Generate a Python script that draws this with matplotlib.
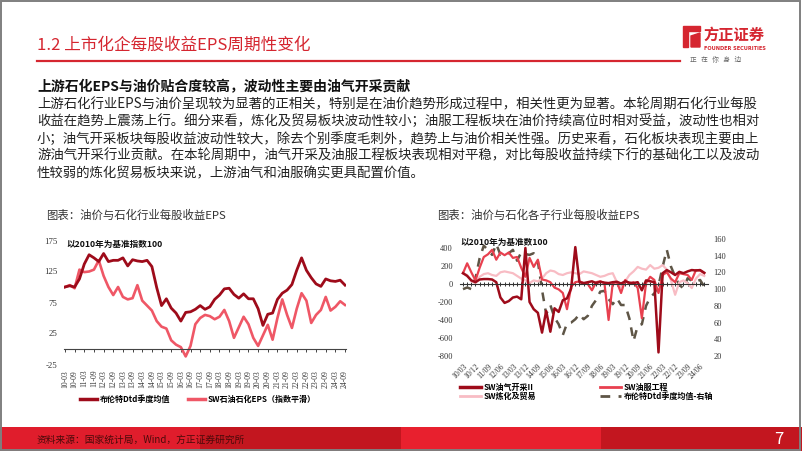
import matplotlib
matplotlib.use('Agg')
import matplotlib.pyplot as plt
from matplotlib.patches import Rectangle, Polygon
from matplotlib.lines import Line2D

plt.rcParams['font.family'] = ['Noto Sans CJK SC', 'DejaVu Sans']

# ---------------- data ----------------
# quarterly, 2010Q1 .. 2024Q3 (2010 = 100)
brent = [100, 102, 100, 113,
         137, 152, 147, 141,
         154, 141, 143, 143,
         147, 134, 144, 142,
         141, 143, 133, 99,
         70, 81, 66, 58,
         45, 59, 60, 64,
         70, 64, 68, 80,
         87, 97, 98, 88,
         82, 89, 81, 81,
         65, 38, 56, 58,
         80, 90, 95, 104,
         127, 147, 127, 115,
         105, 101, 113, 110,
         109, 111, 103]

sw_eps = [100, 103, 98, 128,
          124, 125, 128, 143,
          118, 100, 87, 100,
          84, 80, 82, 103,
          78, 70, 62, 45,
          36, 33, 14, 7,
          3, -12, 5, 40,
          50, 55, 53, 48,
          52, 63, 45, 18,
          35, 52, 40, 18,
          5, 22, 39, 15,
          50, 80, 55, 34,
          65, 90, 78, 42,
          55, 63, 84, 62,
          68, 77, 71]

oil_gas = [120, 90, 40, 20,
           50, 55, 55, 50,
           20, -150, -210, -190,
           -150, -140, -170, 400,
           -200, -280, -320, -540,
           -300, -530, -270, -310,
           -180, -160, -50, 410,
           20, 10, 20, 30,
           10, 25, 15, 10,
           20, 25, 5, 30,
           15, 10, 20, -70,
           40, 30, 20, -760,
           120, 155, 130, 100,
           135, 120, 140, 155,
           150, 155, 125]

oil_service = [120, 230, 130, 40,
               180, 300, 330, 380,
               270, 350, 320, 350,
               290, 300, 180, 80,
               290, 190, 270, 50,
               40, 20, -40, -60,
               -100, -280, -30, 20,
               30, 10, 0, -70,
               20, 30, 10, -400,
               10, 20, -100, 45,
               0, 20, -45, -380,
               10, 80, 45, -100,
               100, 130, 60, 20,
               120, 110, 100, 45,
               155, 150, 120]

refining = [120, 100, 30, 10,
            80, 110, 120, 100,
            90, 130, 140, 130,
            120, 90, 60, 40,
            10, 40, 30, 60,
            120, 150, 140, 110,
            100, 120, 130, 120,
            110, 140, 130, 120,
            100, 80, 90, 110,
            120, 20, -40, 30,
            100, 140, 190, 170,
            160, 210, 170, 180,
            210, 160, 40, -120,
            20, 40, 10, -45,
            60, 110, 90]

left_ticklabels = ['10-03', '10-09', '11-03', '11-09', '12-03', '12-09', '13-03', '13-09',
                   '14-03', '14-09', '15-03', '15-09', '16-03', '16-09', '17-03', '17-09',
                   '18-03', '18-09', '19-03', '19-09', '20-03', '20-09', '21-03', '21-09',
                   '22-03', '22-09', '23-03', '23-09', '24-03', '24-09']
right_ticklabels = ['10/03', '10/12', '11/09', '12/06', '13/03', '13/12', '14/09', '15/06',
                    '16/03', '16/12', '17/09', '18/06', '19/03', '19/12', '20/09', '21/06',
                    '22/03', '22/12', '23/09', '24/06']

body_lines = [
    '上游石化行业EPS与油价呈现较为显著的正相关，特别是在油价趋势形成过程中，相关性更为显著。本轮周期石化行业每股',
    '收益在趋势上震荡上行。细分来看，炼化及贸易板块波动性较小；油服工程板块在油价持续高位时相对受益，波动性也相对',
    '小；油气开采板块每股收益波动性较大，除去个别季度毛刺外，趋势上与油价相关性强。历史来看，石化板块表现主要由上',
    '游油气开采行业贡献。在本轮周期中，油气开采及油服工程板块表现相对平稳，对比每股收益持续下行的基础化工以及波动',
    '性较弱的炼化贸易板块来说，上游油气和油服确实更具配置价值。',
]

# colours
RED = '#d52630'
DARK_RED = '#9e0b1a'
PINK = '#ef5766'
SERV_RED = '#e8404f'
LIGHT_PINK = '#f8bcc4'
OLIVE = '#5e5546'
SERIF = 'Liberation Serif'

W, H = 802, 451


def fx(x):
    return x / W


def fy(y):
    return 1 - y / H


fig = plt.figure(figsize=(W / 100, H / 100), dpi=100)

# ---------------- header ----------------
fig.text(fx(37), fy(45), '1.2 上市化企每股收益EPS周期性变化', fontsize=12,
         color=RED, va='center', ha='left')
fig.add_artist(Line2D([fx(37), fx(680)], [fy(61), fy(61)], color=RED, lw=1.6))

# logo
fig.add_artist(Polygon([(fx(683), fy(26)), (fx(700), fy(26)), (fx(700), fy(31)),
                        (fx(688), fy(31)), (fx(688), fy(47)), (fx(683), fy(47))],
                       closed=True, color=RED, transform=fig.transFigure))
fig.add_artist(Polygon([(fx(691), fy(36)), (fx(700), fy(33)), (fx(700), fy(47)),
                        (fx(691), fy(47))],
                       closed=True, color=RED, transform=fig.transFigure))
fig.text(fx(703), fy(35), '方正证券', fontsize=11, fontweight='bold', color=RED,
         va='center', ha='left')
fig.text(fx(704), fy(48), 'FOUNDER SECURITIES', fontsize=3.6, fontweight='bold',
         color=RED, va='center', ha='left', family='DejaVu Sans')
fig.text(fx(690), fy(60), '正   在   你   身   边', fontsize=4.8, color='#666666',
         va='center', ha='left')

# ---------------- body text ----------------
fig.text(fx(37), fy(87), '上游石化EPS与油价贴合度较高，波动性主要由油气开采贡献',
         fontsize=10, fontweight='bold', color='#111111', va='center', ha='left')
for i, line in enumerate(body_lines):
    fig.text(fx(37), fy(104 + i * 17.3), line, fontsize=9.65, color='#222222',
             va='center', ha='left')

# chart captions
fig.text(fx(46), fy(215), '图表：油价与石化行业每股收益EPS', fontsize=8.2,
         color='#333333', va='center', ha='left')
fig.text(fx(437), fy(215), '图表：油价与石化各子行业每股收益EPS', fontsize=8.2,
         color='#333333', va='center', ha='left')

# ---------------- left chart ----------------
n = len(brent)
xs = list(range(n))
ax1 = fig.add_axes([fx(64), fy(364.5), (346 - 64) / W, 124 / H])
ax1.plot(xs, sw_eps, color=PINK, lw=1.9, solid_joinstyle='round')
ax1.plot(xs, brent, color=DARK_RED, lw=2.0, solid_joinstyle='round')
ax1.set_xlim(-0.2, n - 1 + 0.2)
ax1.set_ylim(-25, 175)
for s in ['top', 'right', 'left']:
    ax1.spines[s].set_visible(False)
ax1.spines['bottom'].set_position(('data', 0))
ax1.spines['bottom'].set_color('#444444')
ax1.spines['bottom'].set_linewidth(0.8)
ax1.set_xticks(range(0, n, 2), left_ticklabels, rotation=90, fontsize=5.5,
               fontfamily=SERIF, color='#333333')
ax1.set_yticks([-25, 25, 75, 125, 175], ['-25', '25', '75', '125', '175'],
               fontsize=6.3, fontfamily=SERIF, color='#333333')
ax1.tick_params(axis='x', direction='out', length=2.5, width=0.7, color='#444444', pad=12.5)
ax1.tick_params(axis='y', length=0, pad=5)
ax1.text(0.3, 168, '以2010年为基准指数100', fontsize=6.2, fontweight='bold',
         color='#111111', va='center', ha='left')
ax1.patch.set_alpha(0)

h1 = [Line2D([0], [0], color=DARK_RED, lw=2.5), Line2D([0], [0], color=PINK, lw=2.5)]
fig.legend(h1, ['布伦特Dtd季度均值', 'SW石油石化EPS（指数平滑）'], ncol=2,
           loc='center left', bbox_to_anchor=(fx(80), fy(399)), frameon=False,
           prop=dict(size=5.8, weight='bold'), handlelength=2.1, handletextpad=0.35,
           columnspacing=2.2, borderpad=0, borderaxespad=0)

# ---------------- right chart ----------------
ax2 = fig.add_axes([fx(460), fy(356), (708 - 460) / W, 117 / H])
ax3 = ax2.twinx()
ax3.plot(xs, brent, color=OLIVE, lw=1.8, dashes=(3.5, 3))
ax2.plot(xs, refining, color=LIGHT_PINK, lw=1.6, solid_joinstyle='round')
ax2.plot(xs, oil_service, color=SERV_RED, lw=1.6, solid_joinstyle='round')
ax2.plot(xs, oil_gas, color=DARK_RED, lw=1.8, solid_joinstyle='round')
ax2.set_zorder(ax3.get_zorder() + 1)
ax2.patch.set_visible(False)
ax2.set_xlim(-0.72, 58.9)
ax2.set_ylim(-800, 500)
ax3.set_ylim(20, 160)
for a in (ax2, ax3):
    for s in ['top', 'right', 'left', 'bottom']:
        a.spines[s].set_visible(False)
ax2.spines['bottom'].set_visible(True)
ax2.spines['bottom'].set_position(('data', 0))
ax2.spines['bottom'].set_color('#333333')
ax2.spines['bottom'].set_linewidth(0.8)
ax2.set_xticks(range(0, n - 1, 3), right_ticklabels, rotation=45, ha='right',
               rotation_mode='anchor', fontsize=5.5, fontfamily=SERIF, color='#333333')
ax2.set_xticks(range(n), minor=True)
ax2.tick_params(axis='x', which='both', direction='inout', length=2.5, width=0.7,
                color='#333333', pad=55)
ax2.set_yticks(range(-800, 401, 200), [str(v) for v in range(-800, 401, 200)],
               fontsize=6, fontfamily=SERIF, color='#333333')
ax2.tick_params(axis='y', length=0, pad=5)
ax3.set_yticks(range(20, 161, 20), [str(v) for v in range(20, 161, 20)],
               fontsize=6, fontfamily=SERIF, color='#333333')
ax3.tick_params(axis='y', length=0, pad=4)
ax2.text(-0.6, 465, '以2010年为基准数100', fontsize=6.2, fontweight='bold',
         color='#111111', va='center', ha='left')

h2 = [Line2D([0], [0], color=DARK_RED, lw=2.5),
      Line2D([0], [0], color=LIGHT_PINK, lw=2.0),
      Line2D([0], [0], color=SERV_RED, lw=2.0),
      Line2D([0], [0], color=OLIVE, lw=2.0, dashes=(3.5, 3))]
fig.legend(h2, ['SW油气开采II', 'SW炼化及贸易', 'SW油服工程', '布伦特Dtd季度均值-右轴'],
           ncol=2, loc='center left', bbox_to_anchor=(fx(460), fy(392)), frameon=False,
           prop=dict(size=5.8, weight='bold'), handlelength=2.6, handletextpad=0.3,
           columnspacing=8.0, labelspacing=0.05, borderpad=0, borderaxespad=0)

# ---------------- footer ----------------
band = [(0, 200, '#e01d2c'), (200, 401, '#c3161f'), (401, 601, '#e8202e'), (601, 802, '#c3161f')]
for x0, x1, c in band:
    fig.add_artist(Rectangle((fx(x0), 0), (x1 - x0) / W, (451 - 427) / H, color=c,
                             transform=fig.transFigure, lw=0))
fig.text(fx(37), fy(440), '资料来源：国家统计局，Wind，方正证券研究所', fontsize=7,
         color='#4a0a0a', va='center', ha='left', style='italic')
fig.text(fx(779), fy(440), '7', fontsize=12, color='white', va='center', ha='center')

fig.add_artist(Rectangle((0.001, 0.002), 0.997, 0.996, fill=False, edgecolor='#7f7f7f',
                         lw=1.4, transform=fig.transFigure))

fig.savefig('out.png', dpi=100)
